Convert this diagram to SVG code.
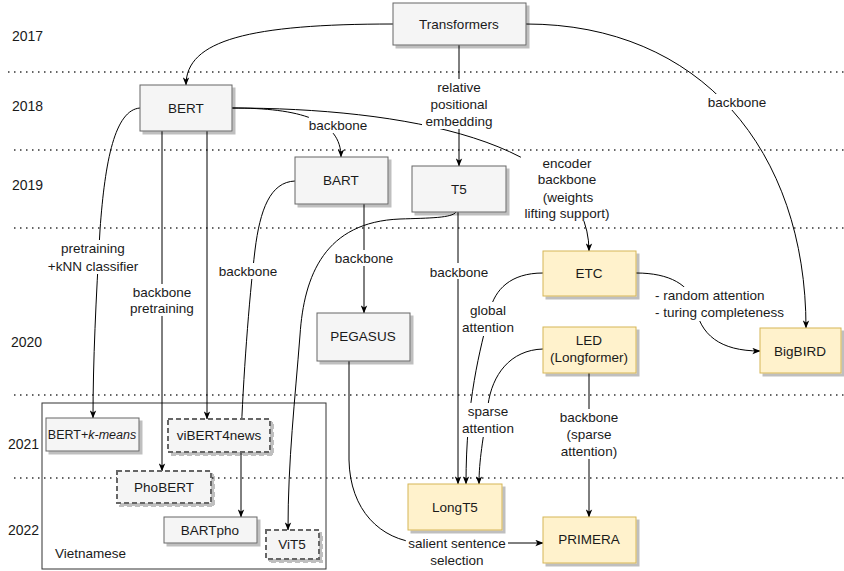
<svg xmlns="http://www.w3.org/2000/svg" width="844" height="571" viewBox="0 0 844 571">
<defs>
<style>
text{font-family:"Liberation Sans",Arial,sans-serif;fill:#1a1a1a;}
.yr{font-size:14px;}
.nt{font-size:13.5px;text-anchor:middle;}
.lb{font-size:13.5px;text-anchor:middle;}
.lbl{font-size:13.5px;}
.gray{fill:#f5f5f5;stroke:#666;stroke-width:1;filter:url(#sh);}
.yel{fill:#fff2cc;stroke:#d6b656;stroke-width:1;filter:url(#sh);}
.dash{fill:#f5f5f5;stroke:#666;stroke-width:2;stroke-dasharray:5 3;filter:url(#sh);}
.dot{stroke:#333;stroke-width:1.5;stroke-dasharray:1.5 4.5;fill:none;}
.e{fill:none;stroke:#000;stroke-width:1;}
.ea{fill:none;stroke:#000;stroke-width:1;marker-end:url(#arr);}
.bg{fill:#fff;}
</style>
<filter id="sh" x="-10%" y="-10%" width="130%" height="140%">
<feDropShadow dx="3" dy="3" stdDeviation="0.6" flood-color="#000" flood-opacity="0.25"/>
</filter>
<marker id="arr" viewBox="0 0 10 8" refX="9.5" refY="4" markerWidth="8" markerHeight="7" markerUnits="userSpaceOnUse" orient="auto">
<path d="M0,0 L10,4 L0,8 L2.5,4 z" fill="#000"/>
</marker>
</defs>

<g id="timeline">
<line class="dot" x1="8" y1="72" x2="844" y2="72"/>
<line class="dot" x1="14" y1="150" x2="844" y2="150"/>
<line class="dot" x1="14" y1="228" x2="844" y2="228"/>
<line class="dot" x1="14" y1="395" x2="844" y2="395"/>
<line class="dot" x1="14" y1="478" x2="844" y2="478"/>
<text class="yr" x="12" y="41">2017</text>
<text class="yr" x="12" y="111">2018</text>
<text class="yr" x="12" y="190">2019</text>
<text class="yr" x="11" y="347">2020</text>
<text class="yr" x="8" y="449">2021</text>
<text class="yr" x="8" y="535">2022</text>
</g>

<g id="vietnamese-group">
<rect x="42" y="403" width="284" height="166" fill="none" stroke="#333" stroke-width="1"/>
<text class="lbl" x="55" y="558">Vietnamese</text>
</g>

<g id="connectors">
<path class="ea" d="M393,24 C250,24 186,40 186,85"/>
<path class="ea" d="M526,24 C700,24 806,150 806,328"/>
<path class="ea" d="M459,45 L459,166"/>
<path class="ea" d="M232,108 C300,108 341,120 341,157"/>
<path class="ea" d="M232,108 C400,108 589,140 589,251"/>
<path class="ea" d="M140,108 C115,110 105,160 100,230 C96,300 93,360 93,418"/>
<path class="ea" d="M162,131 L162,471"/>
<path class="ea" d="M207,131 L207,419"/>
<path class="ea" d="M295,181 C270,182 260,210 255,250 C249,300 243,380 241,440 L241,517"/>
<path class="ea" d="M364,204 L364,313"/>
<path class="ea" d="M456,212 C452,218 430,218 400,219 C325,222 304,275 300,335 C295,400 288,460 288,530"/>
<path class="ea" d="M458,212 L458,484"/>
<path class="ea" d="M543,273 C510,273 495,290 490,310 C480,350 466,400 466,484"/>
<path class="ea" d="M543,349 C510,350 492,375 488,405 C483,440 479,460 479,484"/>
<path class="ea" d="M636,273 C670,273 690,285 695,305 C700,335 720,351 760,351"/>
<path class="ea" d="M589,373 L589,517"/>
<path class="ea" d="M349,361 L349,460 C350,510 380,540 420,543 L543,543"/>

<g id="edge-labels">
<rect class="bg" x="422" y="79" width="74" height="50"/>
<text class="lb" x="459" y="92">relative</text>
<text class="lb" x="459" y="109">positional</text>
<text class="lb" x="459" y="126">embedding</text>
<rect class="bg" x="309" y="117" width="58" height="16"/>
<text class="lb" x="338" y="130">backbone</text>
<rect class="bg" x="707" y="94" width="60" height="16"/>
<text class="lb" x="737" y="107">backbone</text>
<rect class="bg" x="521" y="155" width="92" height="66"/>
<text class="lb" x="567" y="168">encoder</text>
<text class="lb" x="567" y="184">backbone</text>
<text class="lb" x="568" y="202">(weights</text>
<text class="lb" x="567" y="218">lifting support)</text>
<rect class="bg" x="48" y="240" width="92" height="34"/>
<text class="lb" x="93" y="253">pretraining</text>
<text class="lb" x="93" y="271">+kNN classifier</text>
<rect class="bg" x="130" y="284" width="64" height="32"/>
<text class="lb" x="162" y="297">backbone</text>
<text class="lb" x="162" y="313">pretraining</text>
<rect class="bg" x="218" y="263" width="60" height="16"/>
<text class="lb" x="248" y="276">backbone</text>
<rect class="bg" x="334" y="250" width="60" height="16"/>
<text class="lb" x="364" y="263">backbone</text>
<rect class="bg" x="429" y="263" width="60" height="16"/>
<text class="lb" x="459" y="277">backbone</text>
<rect class="bg" x="460" y="302" width="56" height="34"/>
<text class="lb" x="488" y="315">global</text>
<text class="lb" x="488" y="332">attention</text>
<rect class="bg" x="653" y="287" width="136" height="34"/>
<text class="lbl" x="655" y="300">- random attention</text>
<text class="lbl" x="655" y="317">- turing completeness</text>
<rect class="bg" x="461" y="403" width="56" height="34"/>
<text class="lb" x="488" y="416">sparse</text>
<text class="lb" x="488" y="433">attention</text>
<rect class="bg" x="558" y="409" width="62" height="50"/>
<text class="lb" x="589" y="422">backbone</text>
<text class="lb" x="589" y="439">(sparse</text>
<text class="lb" x="589" y="456">attention)</text>
<rect class="bg" x="406" y="535" width="102" height="34"/>
<text class="lb" x="457" y="548">salient sentence</text>
<text class="lb" x="457" y="565">selection</text>
</g>
</g>

<g id="transformers"><rect class="gray" x="393" y="3" width="133" height="42"/><text class="nt" x="459" y="29">Transformers</text></g>
<g id="bert"><rect class="gray" x="140" y="85" width="92" height="46"/><text class="nt" x="186" y="113">BERT</text></g>
<g id="bart"><rect class="gray" x="295" y="157" width="93" height="47"/><text class="nt" x="341" y="185">BART</text></g>
<g id="t5"><rect class="gray" x="412" y="166" width="94" height="46"/><text class="nt" x="459" y="194">T5</text></g>
<g id="etc"><rect class="yel" x="543" y="251" width="93" height="45"/><text class="nt" x="589" y="278">ETC</text></g>
<g id="led"><rect class="yel" x="543" y="327" width="93" height="46"/><text class="nt" x="589" y="345">LED</text><text class="nt" x="589" y="362">(Longformer)</text></g>
<g id="bigbird"><rect class="yel" x="760" y="328" width="81" height="45"/><text class="nt" x="800" y="356">BigBIRD</text></g>
<g id="pegasus"><rect class="gray" x="317" y="313" width="93" height="48"/><text class="nt" x="363" y="341">PEGASUS</text></g>
<g id="longt5"><rect class="yel" x="408" y="484" width="94" height="46"/><text class="nt" x="455" y="512">LongT5</text></g>
<g id="primera"><rect class="yel" x="543" y="517" width="93" height="46"/><text class="nt" x="589" y="544">PRIMERA</text></g>
<g id="bert-kmeans"><rect class="gray" x="46" y="418" width="93" height="33"/><text class="nt" x="92" y="439" style="font-size:12.5px">BERT+<tspan font-style="italic">k-means</tspan></text></g>
<g id="vibert4news"><rect class="dash" x="168" y="419" width="102" height="33"/><text class="nt" x="219" y="440">viBERT4news</text></g>
<g id="phobert"><rect class="dash" x="117" y="471" width="94" height="32"/><text class="nt" x="164" y="492">PhoBERT</text></g>
<g id="bartpho"><rect class="gray" x="164" y="517" width="93" height="26"/><text class="nt" x="210" y="535">BARTpho</text></g>
<g id="vit5"><rect class="dash" x="266" y="530" width="53" height="29"/><text class="nt" x="292" y="549">ViT5</text></g>
</svg>
